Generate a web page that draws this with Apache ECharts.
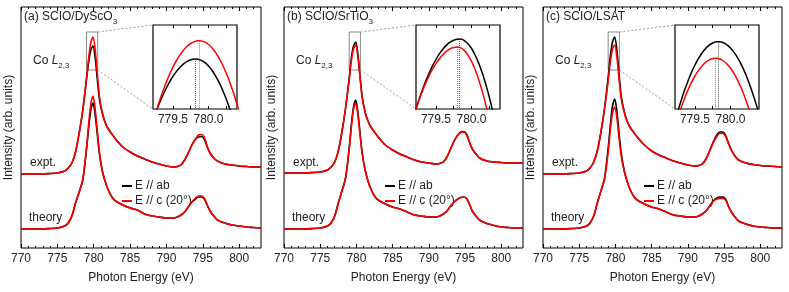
<!DOCTYPE html>
<html><head><meta charset="utf-8">
<script src="https://cdn.jsdelivr.net/npm/echarts@6/dist/echarts.min.js"></script>
<style>html,body{margin:0;padding:0;background:#fff}#c{width:789px;height:292px}</style>
</head><body><div id="c"></div>
<script>
// ---------------- data ----------------
const energy = [770,772,774,775,776,776.5,777,777.5,778,778.5,779,779.3,779.6,779.9,780.2,780.5,780.8,781.2,781.6,782,782.5,783,784,785,786,787,788,789,790,791,791.5,792,792.5,793,793.5,794,794.4,794.8,795.2,795.6,796,796.5,797,798,799,800,801,802,803];

const aExptAb = [74,74,74.5,75,77,80,85,96,115,138, 168,186,198,202,190,168,148,134,125,119, 114,109,101,96,92,89,86,84,82,81, 81.5,83,88,95,103,109,111,111.5,109,101, 95,90,87,84,83,82,81.5,81,81];
const aExptC  = [74,74,74.5,75,77,80,85,96,115,138, 170,190,205,211,198,174,151,135,125,119, 114,109,101,96,92,89,86,84,82,81, 81.5,83,88,95,103,109,113,113.5,111,102, 95,90,87,84,83,82,81.5,81,81];
const aTheoAb = [19,19,19.5,20,22,25,32,45,56,68, 98,120,138,145,133,113,93,76,66,58, 51,47,43,40,38,34,32,31,30,30, 31,33,36,41,46,49,51,51,49,43, 37,32,28,25,23,22,21,20.5,20];
const aTheoC  = [19,19,19.5,20,22,25,32,45,56,69, 100,124,144,152,139,117,95,77,66,58, 51,47,43,40,38,34,32,31,30,30, 31,33,36,41,46,50,52,52,50,43, 37,32,28,25,23,22,21,20.5,20];

const bExptAb = [75,75,75.5,76,78,81,86,97,116,140, 170,190,202,206,194,172,151,136,127,121, 116,111,103,98,94,91,88,86,85,84, 84.5,86,91,99,107,113,116,116.5,114,106, 99,94,90,87,86,85.5,85,85,85];
const bExptC  = [75,75,75.5,76,78,81,86,97,116,140, 168,187,199,203,191,170,150,136,127,121, 116,111,103,98,94,91,88,86,85,84, 84.5,86,91,99,107,113,115.5,116,113.5,106, 99,94,90,87,86,85.5,85,85,85];
const bTheoAb = [19,19,19.5,20,22,25,32,45,57,70, 100,123,141,148,136,115,95,78,67,59, 52,48,44,41,39,36,33,32,31,31, 32,34,37,42,46,49,50.5,51,49.5,44, 37,32,28,24.5,22.5,21,20.5,20,20];
const bTheoC  = [19,19,19.5,20,22,25,32,45,57,70, 98,121,139,145,133,113,94,78,67,59, 52,48,44,41,39,36,33,32,31,31, 32,34,37,42,46,49,50.5,51,49.5,44, 37,32,28,24.5,22.5,21,20.5,20,20];

const cExptAb = [74,74,74.5,75,77,80,86,97,116,140, 171,192,206,211,198,174,152,137,127,121, 116,111,103,97,93,90,87,85,83,82, 82.5,84,89,97,106,113,116,116,113,105, 98,92,88,85,83.5,82.5,82,81.5,81];
const cExptC  = [74,74,74.5,75,77,80,86,97,116,139, 167,186,199,203,191,169,149,136,127,121, 116,111,103,97,93,90,87,85,83,82, 82.5,84,89,96.5,105,111.5,114.5,114.5,112,104.5, 98,92,88,85,83.5,82.5,82,81.5,81];
const cTheoAb = [19,19,19.5,20,22,25,32,45,57,70, 100,123,142,149,137,115,95,78,67,59, 52,48,44,41,39,36,33,32,31,31, 32,34,37,42,47,50,51,51,49,42, 36,31,27,24,22,21,20.5,20,20];
const cTheoC  = [19,19,19.5,20,22,25,32,45,57,69, 96,118,135,141,130,110,92,77,67,59, 52,48,44,41,39,36,33,32,31,31, 32,34,37,41.5,46.5,49,49.5,49.5,48,41.5, 36,31,27,24,22,21,20.5,20,20];

// inset (zoom on the L3 peak maximum)
const insetEnergy = [779.20,779.25,779.30,779.35,779.40,779.45,779.50,779.55,779.60,779.65,779.70,779.75,779.80,779.85,779.90,779.95,780.00,780.05,780.10,780.15,780.20,780.25,780.30,780.35,780.40,780.45];
const aInsetAb = [-15.3,-5.2,4.0,12.4,20.0,26.7,32.6,37.6,41.8,45.1,47.6,49.2,49.9,49.8,48.6,46.3,42.9,38.5,32.9,26.3,18.5,9.7,-0.2,-11.2,-23.3,-36];
const aInsetC  = [-18.3,-5.9,5.6,16.1,25.7,34.3,41.9,48.5,54.2,59.0,62.7,65.5,67.4,68.2,68.1,66.9,64.5,61.0,56.3,50.6,43.7,35.7,26.5,16.2,4.8,-7.7];
const bInsetAb = [-4.6,6.8,17.2,26.7,35.2,42.9,49.5,55.3,60.1,63.9,66.8,68.8,69.8,69.9,68.4,65.2,60.5,54.0,45.9,36.2,24.8,11.8,-2.9,-19.2,-37,-56];
const bInsetC  = [-4.2,6.3,16.0,24.7,32.6,39.5,45.4,50.5,54.6,57.9,60.2,61.5,62,61.1,58.4,53.9,47.6,39.5,29.6,17.9,4.4,-10.9,-28,-47,-67,-87];
const cInsetAb = [-17.9,-4.9,7.0,17.9,27.6,36.4,44.0,50.5,56.0,60.4,63.8,66.0,67.2,67.3,66.3,64.2,61.0,56.6,51.1,44.6,36.9,28.1,18.1,7.1,-5.1,-18.3];
const cInsetC  = [-23,-11,-0.1,9.8,18.6,26.3,33.0,38.6,43.1,46.6,49.1,50.5,50.8,50.0,48.0,44.9,40.7,35.3,28.7,21.0,12.1,2.1,-9.0,-21.7,-34.8,-49];

// peak positions [energy, intensity] for E//ab and E//c
const aPeaks = [[779.82,50],[779.87,68.3]];
const bPeaks = [[779.83,70],[779.80,62]];
const cPeaks = [[779.83,67.4],[779.79,50.8]];

// zoom box [xmin, xmax, ymin, ymax]
const zoomBox = [779.0, 780.55, 178, 216];

const majorTicks = [770,775,780,785,790,795,800];
const minorTicks = [771,772,773,774,776,777,778,779,781,782,783,784,786,787,788,789,791,792,793,794,796,797,798,799,801,802];
const insetTicks = [779.5,779.75,780.0,780.25];
const insetLabels = [779.5,780.0];
const xRange = [770,803];
const insetRange = [779.22,780.40];

const seriesNames = ['E // ab','E // c (20°)'];
const titles = [['(a) SCIO/DyScO','3'],['(b) SCIO/SrTiO','3'],['(c) SCIO/LSAT','']];

// ---------------- chart ----------------
const FONT = '"Liberation Sans", Arial, Helvetica, sans-serif';
const TXT = '#222';
const COLORS = ['#000000','#ff0000'];
const panels = [
  {ox:21,  w:240, expt:[aExptAb,aExptC], theo:[aTheoAb,aTheoC], inset:[aInsetAb,aInsetC], peaks:aPeaks},
  {ox:284, w:239, expt:[bExptAb,bExptC], theo:[bTheoAb,bTheoC], inset:[bInsetAb,bInsetC], peaks:bPeaks},
  {ox:543, w:239, expt:[cExptAb,cExptC], theo:[cTheoAb,cTheoC], inset:[cInsetAb,cInsetC], peaks:cPeaks}
];
const TOP = 7, H = 241;
const grid=[], xAxis=[], yAxis=[], series=[], legend=[], graphicText=[];
const refs = [];

function tickAxis(gi, range, pos, ticks, len, labels, extra) {
  return Object.assign({
    gridIndex: gi, type:'value', min:range[0], max:range[1], position:pos,
    axisLine:{show:false}, splitLine:{show:false},
    axisTick:{show:true, inside:true, length:len, customValues:ticks, lineStyle:{color:'#000', width:1}},
    axisLabel: labels ? {show:true, customValues:labels, fontSize:12, color:TXT, fontFamily:FONT, margin:5} : {show:false}
  }, extra || {});
}

panels.forEach((p, i) => {
  const gm = grid.length;
  grid.push({left:p.ox, top:TOP, width:p.w, height:H, show:true, borderColor:'#000', borderWidth:1, backgroundColor:'rgba(0,0,0,0)'});
  const gi = grid.length;
  grid.push({left:p.ox+132, top:25, width:84, height:84, show:true, borderColor:'#000', borderWidth:1.2, backgroundColor:'#fff'});

  const xm = xAxis.length;
  xAxis.push(tickAxis(gm, xRange, 'bottom', majorTicks, 4, majorTicks, {
    name:'Photon Energy (eV)', nameLocation:'middle', nameGap:24,
    nameTextStyle:{fontSize:12, color:TXT, fontFamily:FONT}
  }));
  xAxis.push(tickAxis(gm, xRange, 'bottom', minorTicks, 2, null));
  xAxis.push(tickAxis(gm, xRange, 'top', majorTicks, 4, null));
  xAxis.push(tickAxis(gm, xRange, 'top', minorTicks, 2, null));
  const xi = xAxis.length;
  const insetLab = {customValues:insetLabels, fontSize:12, color:TXT, fontFamily:FONT, margin:5, formatter: v => Number(v).toFixed(1)};
  xAxis.push(Object.assign(tickAxis(gi, insetRange, 'bottom', insetTicks, 3, insetLabels), {axisLabel: Object.assign({show:true}, insetLab)}));
  xAxis.push(tickAxis(gi, insetRange, 'top', insetTicks, 3, null));

  const ym = yAxis.length;
  yAxis.push({gridIndex:gm, type:'value', min:0, max:H, axisLine:{show:false}, axisTick:{show:false},
    axisLabel:{show:false}, splitLine:{show:false},
    name:'Intensity (arb. units)', nameLocation:'middle', nameGap:6, nameRotate:90,
    nameTextStyle:{fontSize:12, color:TXT, fontFamily:FONT}});
  const yi = yAxis.length;
  yAxis.push({gridIndex:gi, type:'value', min:0, max:84, show:false});

  const ref = {};
  [0,1].forEach(k => {
    [p.expt[k], p.theo[k]].forEach((arr, j) => {
      const s = {
        type:'line', name:seriesNames[k], xAxisIndex:xm, yAxisIndex:ym,
        data: energy.map((e, n) => [e, arr[n]]), smooth:0.3, symbol:'none',
        lineStyle:{color:COLORS[k], width:1.6}, itemStyle:{color:COLORS[k]}, z:3+k
      };
      if (k === 0 && j === 0) {
        s.markArea = {silent:true, itemStyle:{color:'rgba(0,0,0,0)', borderColor:'#8c8c8c', borderWidth:1},
          data:[[{coord:[zoomBox[0], zoomBox[3]]},{coord:[zoomBox[1], zoomBox[2]]}]]};
        ref.main = series.length;
      }
      series.push(s);
    });
  });
  [0,1].forEach(k => {
    const pk = p.peaks[k];
    if (k === 0) ref.inset = series.length;
    series.push({
      type:'line', name:seriesNames[k], xAxisIndex:xi, yAxisIndex:yi,
      data: insetEnergy.map((e, n) => [e, p.inset[k][n]]), smooth:0.3, symbol:'none', clip:true,
      lineStyle:{color:COLORS[k], width:1.5}, itemStyle:{color:COLORS[k]}, z:5+k,
      markLine:{silent:true, symbol:['none','none'], label:{show:false},
        lineStyle:{color: k ? '#ff5555' : '#555555', width:1, type:'dotted'},
        data:[[{coord:[pk[0], pk[1]]},{coord:[pk[0], 0]}]]}
    });
  });
  refs.push(ref);

  legend.push({left:p.ox+96, top:175, orient:'vertical', selectedMode:false, itemWidth:10, itemHeight:2, itemGap:3,
    padding:5, textStyle:{fontSize:12, color:TXT, fontFamily:FONT, padding:[0,0,0,-2]},
    data: seriesNames.map(n => ({name:n, icon:'rect'}))});

  const rich = {
    n:{fontSize:12, lineHeight:18, fontFamily:FONT, fill:TXT},
    i:{fontSize:12, lineHeight:18, fontFamily:FONT, fontStyle:'italic', fill:TXT},
    s:{fontSize:8, lineHeight:8, verticalAlign:'bottom', fontFamily:FONT, fill:TXT}
  };
  const t = titles[i];
  graphicText.push({type:'text', x:p.ox+3, y:17, style:{text: t[1] ? '{n|'+t[0]+'}{s|'+t[1]+'}' : '{n|'+t[0]+'}', rich, verticalAlign:'middle'}});
  graphicText.push({type:'text', x:p.ox+12, y:61, style:{text:'{n|Co }{i|L}{s|2,3}', rich, verticalAlign:'middle'}});
  graphicText.push({type:'text', x:p.ox+9, y:163, style:{text:'expt.', font:'12px '+FONT, fill:TXT, verticalAlign:'middle'}});
  graphicText.push({type:'text', x:p.ox+8, y:218, style:{text:'theory', font:'12px '+FONT, fill:TXT, verticalAlign:'middle'}});
});

const chart = echarts.init(document.getElementById('c'), null, {renderer:'canvas'});
chart.setOption({animation:false, backgroundColor:'#fff', grid, xAxis, yAxis, series, legend, graphic: graphicText});

const lines = [];
refs.forEach(r => {
  const tr = chart.convertToPixel({seriesIndex:r.main}, [zoomBox[1], zoomBox[3]]);
  const br = chart.convertToPixel({seriesIndex:r.main}, [zoomBox[1], zoomBox[2]]);
  const itl = chart.convertToPixel({seriesIndex:r.inset}, [insetRange[0], 84]);
  const ibl = chart.convertToPixel({seriesIndex:r.inset}, [insetRange[0], 0]);
  [[tr, itl],[br, ibl]].forEach(([a, b]) => lines.push({type:'line', silent:true, z:1,
    shape:{x1:a[0], y1:a[1], x2:b[0], y2:b[1]}, style:{stroke:'#9a9a9a', lineWidth:1, lineDash:[2,2]}}));
});
chart.setOption({graphic: graphicText.concat(lines)});
</script></body></html>
